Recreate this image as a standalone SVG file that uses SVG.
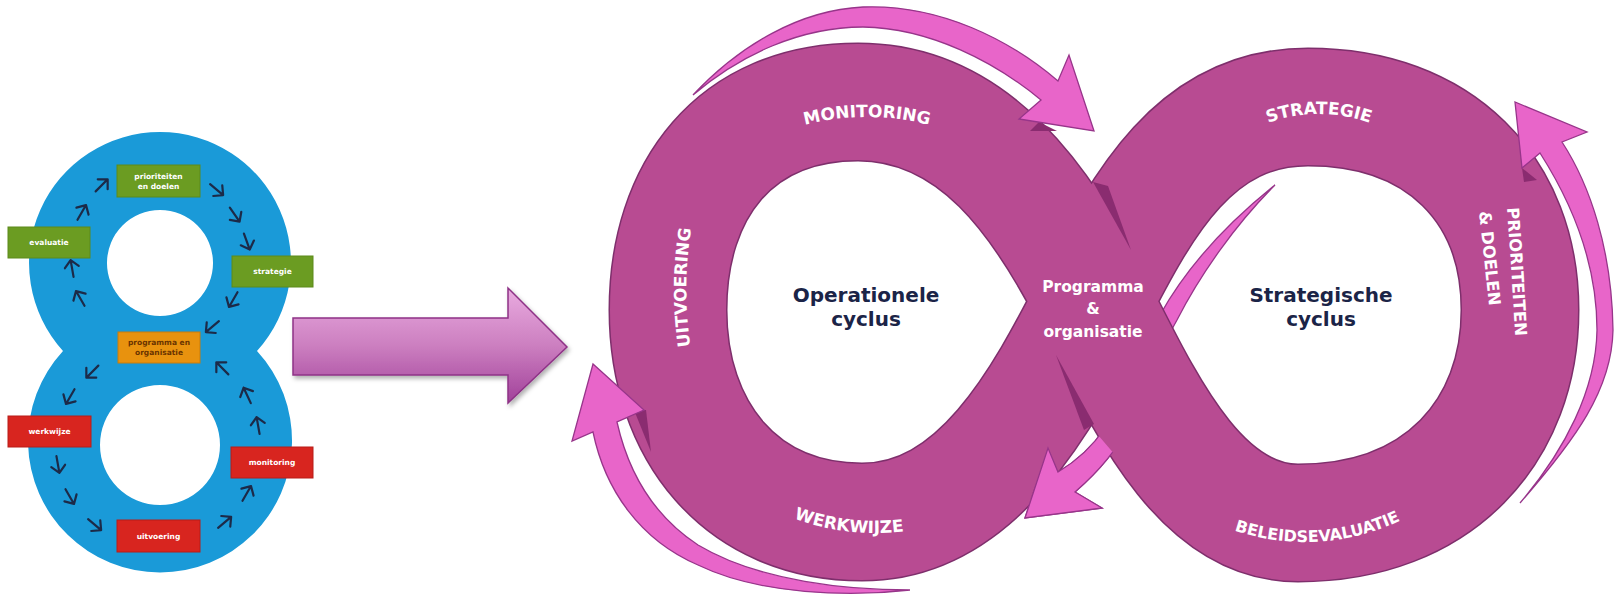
<svg xmlns="http://www.w3.org/2000/svg" xmlns:xlink="http://www.w3.org/1999/xlink" width="1614" height="595" viewBox="0 0 1614 595">
<defs>
<style>
.band-o{fill:none;stroke:#7e2f6c;stroke-width:119}
.band-f{fill:none;stroke:#b84b92;stroke-width:116}
.pk{fill:#e865c9;stroke:#97358a;stroke-width:1.3;stroke-linejoin:miter}
.sh{fill:#8a2c70}
.bt{font-family:"DejaVu Sans",Verdana,sans-serif;font-weight:bold;font-size:17px;fill:#ffffff}
.ct{font-family:"DejaVu Sans",Verdana,sans-serif;font-weight:bold;font-size:20px;fill:#1b2447;text-anchor:middle}
.pt{font-family:"DejaVu Sans",Verdana,sans-serif;font-weight:bold;font-size:15.5px;fill:#ffffff;text-anchor:middle}
.sa{fill:none;stroke:#1c2a48;stroke-width:2.2;stroke-linecap:round;stroke-linejoin:round}
.bx{stroke-width:1}
.bxt{font-family:"DejaVu Sans",Verdana,sans-serif;font-weight:bold;font-size:7.5px;fill:#ffffff;text-anchor:middle}
.bxd{fill:#6a3400}
</style>
<linearGradient id="gArrow" x1="0" y1="0" x2="0" y2="1">
<stop offset="0" stop-color="#e9abe0"/>
<stop offset="0.5" stop-color="#cc7fc0"/>
<stop offset="1" stop-color="#a1419a"/>
</linearGradient>
<filter id="ds" x="-10%" y="-10%" width="130%" height="140%">
<feDropShadow dx="2" dy="3" stdDeviation="2" flood-color="#000" flood-opacity="0.3"/>
</filter>
<path id="sarr" d="M -9 0 H 8 M 1 -7 L 8 0 L 1 7"/>
<path id="pMon" d="M 617,367 A 250,250 0 0 1 1117,367"/>
<path id="pStr" d="M 1169,264 A 150,150 0 0 1 1469,264"/>
<path id="pWerk" d="M 642,300 A 233,233 0 0 0 1108,300"/>
<path id="pBel" d="M 1083,320 A 222,222 0 0 0 1527,320"/>
<path id="pUit" d="M 740,490 A 400,400 0 0 1 740,90"/>
<path id="pPri" d="M 1507,208 Q 1512,276 1516,350"/>
<path id="pDoe" d="M 1479,212 Q 1484,256 1489,306"/>
<path id="centerArrow" d="M 1275,185 C 1225,225 1185,270 1160,315 C 1140,352 1125,395 1105,428 C 1090,450 1075,462 1058,472 L 1048,448 L 1025,518 L 1102,508 L 1075,492 C 1098,472 1118,450 1135,415 C 1150,380 1160,350 1177,320 C 1200,275 1235,225 1275,185 Z"/>
<clipPath id="headClip"><polygon points="990,380 1092,380 1092,428 1116,456 1130,470 1130,545 990,545"/></clipPath>
</defs>

<rect x="0" y="0" width="1614" height="595" fill="#ffffff"/>

<!-- Left: blue figure 8 -->
<g id="figure8">
<path fill="#1a9ad8" fill-rule="evenodd" d="M 160,132 A 131,131 0 0 1 257,351 A 132,132 0 1 1 63,351 A 131,131 0 0 1 160,132 Z M 160,210 A 53,53 0 1 0 160,316 A 53,53 0 1 0 160,210 Z M 160,385 A 60,60 0 1 0 160,505 A 60,60 0 1 0 160,385 Z"/>
</g>
<g id="box-prioriteiten">
<rect class="bx" x="117" y="165" width="83" height="32" fill="#6b9c22" stroke="#5c8a1a"/>
<text class="bxt" x="158.5" y="179">prioriteiten</text>
<text class="bxt" x="158.5" y="189">en doelen</text>
</g>
<g id="box-evaluatie">
<rect class="bx" x="8" y="227" width="82" height="31" fill="#6b9c22" stroke="#5c8a1a"/>
<text class="bxt" x="49" y="245">evaluatie</text>
</g>
<g id="box-strategie">
<rect class="bx" x="232" y="256" width="81" height="31" fill="#6b9c22" stroke="#5c8a1a"/>
<text class="bxt" x="272.5" y="274">strategie</text>
</g>
<g id="box-programma">
<rect class="bx" x="118" y="332" width="82" height="31" fill="#e8920e" stroke="#c97c0a"/>
<text class="bxt bxd" x="159" y="345">programma en</text>
<text class="bxt bxd" x="159" y="355">organisatie</text>
</g>
<g id="box-werkwijze">
<rect class="bx" x="8" y="416" width="83" height="31" fill="#d8251f" stroke="#b81c18"/>
<text class="bxt" x="49.5" y="434">werkwijze</text>
</g>
<g id="box-monitoring">
<rect class="bx" x="231" y="447" width="82" height="31" fill="#d8251f" stroke="#b81c18"/>
<text class="bxt" x="272" y="465">monitoring</text>
</g>
<g id="box-uitvoering">
<rect class="bx" x="117" y="520" width="83" height="32" fill="#d8251f" stroke="#b81c18"/>
<text class="bxt" x="158.5" y="539">uitvoering</text>
</g>
<g id="small-arrows" class="sa">
<use href="#sarr" transform="translate(102,185) rotate(-45)"/>
<use href="#sarr" transform="translate(82,212) rotate(-60)"/>
<use href="#sarr" transform="translate(217,190) rotate(40)"/>
<use href="#sarr" transform="translate(235,215) rotate(55)"/>
<use href="#sarr" transform="translate(247,242) rotate(70)"/>
<use href="#sarr" transform="translate(72,268) rotate(-100)"/>
<use href="#sarr" transform="translate(80,298) rotate(-120)"/>
<use href="#sarr" transform="translate(233,300) rotate(120)"/>
<use href="#sarr" transform="translate(212,327) rotate(140)"/>
<use href="#sarr" transform="translate(92,372) rotate(135)"/>
<use href="#sarr" transform="translate(70,397) rotate(120)"/>
<use href="#sarr" transform="translate(58,465) rotate(80)"/>
<use href="#sarr" transform="translate(70,497) rotate(60)"/>
<use href="#sarr" transform="translate(95,525) rotate(40)"/>
<use href="#sarr" transform="translate(225,522) rotate(-40)"/>
<use href="#sarr" transform="translate(247,493) rotate(-60)"/>
<use href="#sarr" transform="translate(258,425) rotate(-100)"/>
<use href="#sarr" transform="translate(247,395) rotate(-115)"/>
<use href="#sarr" transform="translate(222,368) rotate(-135)"/>
</g>

<!-- Big transition arrow -->
<g id="big-arrow">
<path filter="url(#ds)" fill="url(#gArrow)" stroke="#8e3286" stroke-width="1.5" d="M 293,318 L 508,318 L 508,288 L 567,347 L 508,403 L 508,375 L 293,375 Z"/>
</g>

<!-- Right: infinity -->
<g id="connectors">
<use id="arrow-center-under" href="#centerArrow" class="pk"/>
</g>

<g id="infinity-band">
<path class="band-o" d="M 1093,301 C 1143,203 1195,107 1308,107 C 1440,107 1520,190 1520,310 C 1520,430 1440,523 1298,523 C 1198,523 1143,399 1093,301 C 1043,203 975,102 858,102 C 735,102 668,190 668,310 C 668,430 740,522 862,522 C 978,522 1043,399 1093,301 Z"/>
<path class="band-f" d="M 1093,301 C 1143,203 1195,107 1308,107 C 1440,107 1520,190 1520,310 C 1520,430 1440,523 1298,523 C 1198,523 1143,399 1093,301 C 1043,203 975,102 858,102 C 735,102 668,190 668,310 C 668,430 740,522 862,522 C 978,522 1043,399 1093,301 Z"/>
<polygon class="sh" points="1093,182 1108,186 1131,250"/>
<polygon class="sh" points="1056,355 1084,430 1094,424"/>
<polygon class="sh" points="1039,122 1057,131 1030,131"/>
<polygon class="sh" points="1522,168 1537,180 1524,182"/>
<polygon class="sh" points="634,410 651,452 646,410"/>
<polygon class="sh" points="1048,452 1030,500 1042,470"/>
</g>

<g id="connectors-top">
<path id="arrow-top" class="pk" d="M 693,95 C 740,45 800,10 863,7 C 940,4 1010,40 1058,81 L 1069,55 L 1094,131 L 1019,119 L 1041,100 C 995,62 930,28 863,27 C 800,27 740,55 693,95 Z"/>
<path id="arrow-right" class="pk" d="M 1520,503 C 1575,440 1612,390 1613,330 C 1612,250 1590,185 1562,142 L 1587,132 L 1515,102 L 1522,168 L 1540,153 C 1570,200 1597,260 1597,330 C 1596,390 1565,450 1520,503 Z"/>
<path id="arrow-bottom" class="pk" d="M 910,590 C 850,590 760,582 698,545 C 660,520 630,480 617,422 L 644,410 L 593,364 L 572,441 L 593,432 C 605,490 640,540 698,565 C 760,595 850,597 910,590 Z"/>
<use id="arrow-center-head" href="#centerArrow" class="pk" clip-path="url(#headClip)"/>
</g>

<g id="label-monitoring"><text class="bt"><textPath href="#pMon" startOffset="50%" text-anchor="middle">MONITORING</textPath></text></g>
<g id="label-strategie"><text class="bt"><textPath href="#pStr" startOffset="50%" text-anchor="middle">STRATEGIE</textPath></text></g>
<g id="label-werkwijze"><text class="bt"><textPath href="#pWerk" startOffset="339" text-anchor="middle">WERKWIJZE</textPath></text></g>
<g id="label-beleid"><text class="bt" style="font-size:16px"><textPath href="#pBel" startOffset="362" text-anchor="middle">BELEIDSEVALUATIE</textPath></text></g>
<g id="label-uitvoering"><text class="bt"><textPath href="#pUit" startOffset="212" text-anchor="middle">UITVOERING</textPath></text></g>
<g id="label-prioriteiten">
<text class="bt" style="font-size:16.5px"><textPath href="#pPri">PRIORITEITEN</textPath></text>
<text class="bt" style="font-size:16.5px"><textPath href="#pDoe">&amp; DOELEN</textPath></text>
</g>
<g id="label-operationele">
<text class="ct" x="866" y="302">Operationele</text>
<text class="ct" x="866" y="326">cyclus</text>
</g>
<g id="label-strategische">
<text class="ct" x="1321" y="302">Strategische</text>
<text class="ct" x="1321" y="326">cyclus</text>
</g>
<g id="label-programma">
<text class="pt" x="1093" y="292">Programma</text>
<text class="pt" x="1093" y="314">&amp;</text>
<text class="pt" x="1093" y="337">organisatie</text>
</g>
</svg>
